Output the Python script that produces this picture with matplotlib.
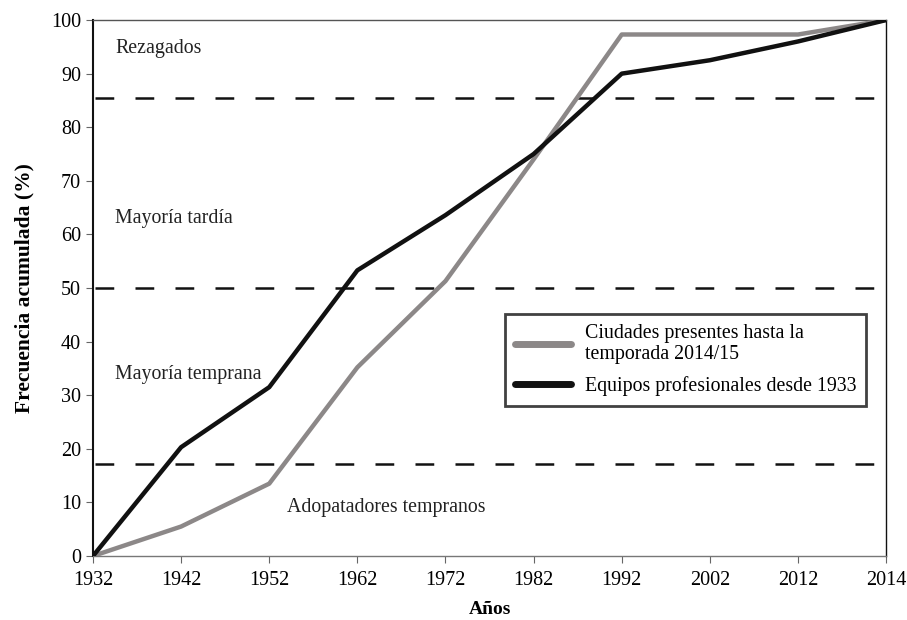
import matplotlib
matplotlib.use("Agg")
import matplotlib.pyplot as plt
import numpy as np

years = ["1932", "1942", "1952", "1962", "1972", "1982", "1992", "2002", "2012", "2014"]
ciudades = [0, 5.5, 13.5, 35.2, 51.3, 74.0, 97.3, 97.3, 97.3, 100]
equipos = [0, 20.3, 31.5, 53.3, 63.6, 75.0, 90.0, 92.5, 96.0, 100]
thresholds = [85.5, 50, 17.2]
label_ciudades = "Ciudades presentes hasta la\ntemporada 2014/15"
label_equipos = "Equipos profesionales desde 1933"
zone_labels = ["Rezagados", "Mayoría tardía", "Mayoría temprana", "Adopatadores tempranos"]
zone_y = [94.6, 62.9, 33.8, 9.0]
zone_x = [0.25, 0.25, 0.25, 2.2]

plt.rcParams['font.family'] = ['Liberation Serif', 'DejaVu Serif']

fig = plt.figure(figsize=(9.07, 6.2), dpi=100)
ax = fig.add_axes([0.1025, 0.1032, 0.8745, 0.8645])

x = np.arange(len(years))
for t in thresholds:
    ax.axhline(t, xmin=0.003, xmax=0.99, color='#111111', lw=1.8,
               linestyle=(0, (7.5, 8.5)), zorder=1)

ax.plot(x, ciudades, color='#8c8888', lw=3.2, label=label_ciudades, zorder=3,
        solid_joinstyle='round')
ax.plot(x, equipos, color='#111111', lw=3.2, label=label_equipos, zorder=4,
        solid_joinstyle='round')

for lab, xx, yy in zip(zone_labels, zone_x, zone_y):
    ax.text(xx, yy, lab, fontsize=14.3, color='#222222', va='center', ha='left')

ax.set_xlim(0, len(years) - 1)
ax.set_ylim(0, 100)
ax.set_xticks(x)
ax.set_xticklabels(years)
ax.set_yticks(np.arange(0, 101, 10))
ax.tick_params(axis='both', labelsize=14.5, direction='out', length=5,
               color='#666666', width=0.8)
ax.tick_params(axis='x', pad=6)
ax.set_xlabel("Años", fontsize=14, fontweight='bold', labelpad=8)
ax.set_ylabel("Frecuencia acumulada (%)", fontsize=15.5, fontweight='bold', labelpad=12)

ax.spines['top'].set_color('#555555')
ax.spines['top'].set_linewidth(1.0)
ax.spines['bottom'].set_color('#777777')
ax.spines['bottom'].set_linewidth(1.0)
ax.spines['left'].set_color('#111111')
ax.spines['left'].set_linewidth(1.5)
ax.spines['right'].set_color('#111111')
ax.spines['right'].set_linewidth(1.0)

leg = ax.legend(loc='upper left', bbox_to_anchor=(0.52, 0.452), fontsize=14.3,
                frameon=True, fancybox=False, handlelength=2.8, handletextpad=0.7,
                borderpad=0.5, labelspacing=0.6, borderaxespad=0)
leg.get_frame().set_edgecolor('#111111')
leg.get_frame().set_linewidth(2.0)
for h in leg.get_lines():
    h.set_linewidth(5)
    h.set_solid_capstyle('round')

fig.savefig("out.png", dpi=100)
